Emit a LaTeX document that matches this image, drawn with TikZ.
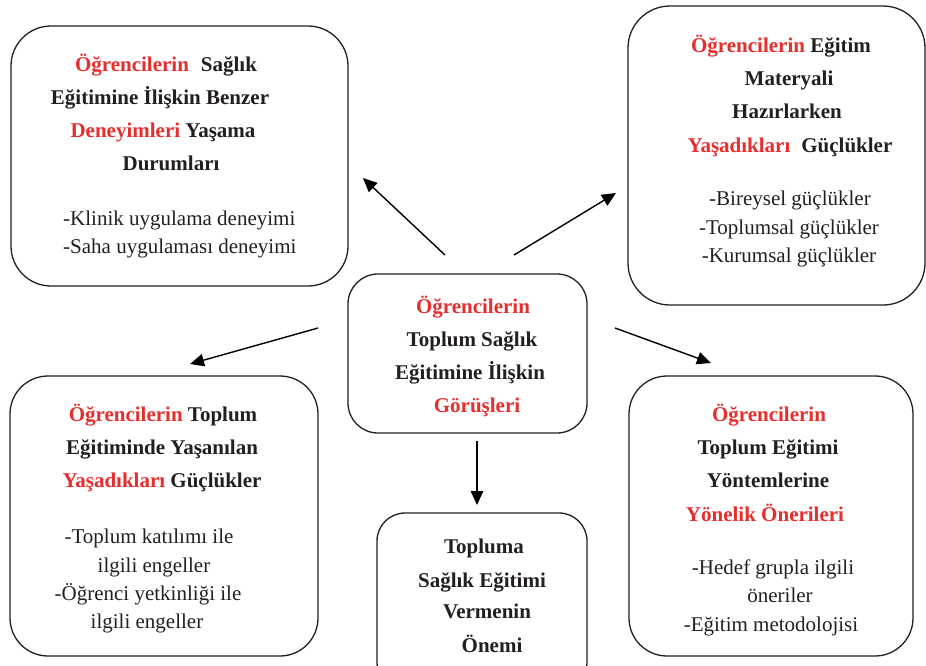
\documentclass[tikz,border=0pt]{standalone}
\usepackage{fontspec}
\setmainfont{Liberation Serif}
\usetikzlibrary{arrows.meta}
\definecolor{tred}{RGB}{232,45,45}
\definecolor{tblk}{RGB}{35,31,32}
\begin{document}
\begin{tikzpicture}[x=1pt,y=-1pt,
  box/.style={draw=tblk,line width=1.3pt,rounded corners=#1,inner sep=0},
  box/.default=40pt,
  ttl/.style={font=\bfseries\fontsize{21}{21}\selectfont,text=tblk,anchor=base,inner sep=0},
  itm/.style={font=\fontsize{21}{21}\selectfont,text=tblk,anchor=base,inner sep=0},
  arr/.style={draw=black,line width=1.4pt,-{Triangle[length=14pt,width=12.5pt]}}]
\useasboundingbox (0,0) rectangle (926,665);
% boxes
\draw[box] (11,26) rectangle (348,286);
\node[inner sep=0] (b1) at (179.5,156) {};
\draw[box=42pt] (628,6) rectangle (925,305);
\node[inner sep=0] (b2) at (776,155) {};
\draw[box=30pt] (348,274) rectangle (587,433);
\node[inner sep=0] (c) at (467,353) {};
\draw[box=38pt] (10,376) rectangle (318,656);
\node[inner sep=0] (b3) at (164,516) {};
\draw[box=38pt] (629,376) rectangle (913,656);
\node[inner sep=0] (b4) at (771,516) {};
\draw[box=28pt] (377,513) rectangle (587,690);
\node[inner sep=0] (b5) at (482,600) {};
% box 1 text
\node[ttl] (t11) at (166,71) {\textcolor{tred}{Öğrencilerin}\hspace{12pt}Sağlık};
\node[ttl] (t12) at (160,104) {Eğitimine İlişkin Benzer};
\node[ttl] (t13) at (163,137) {\textcolor{tred}{Deneyimleri} Yaşama};
\node[ttl] (t14) at (171,170) {Durumları};
\node[itm,anchor=base west] (i11) at (63,225) {-Klinik uygulama deneyimi};
\node[itm,anchor=base west] (i12) at (63,253) {-Saha uygulaması deneyimi};
% box 2 text
\node[ttl] (t21) at (781,52) {\textcolor{tred}{Öğrencilerin} Eğitim};
\node[ttl] (t22) at (789,85) {Materyali};
\node[ttl] (t23) at (787,118) {Hazırlarken};
\node[ttl] (t24) at (790,152) {\textcolor{tred}{Yaşadıkları}\hspace{11pt}Güçlükler};
\node[itm] (i21) at (790,205) {-Bireysel güçlükler};
\node[itm] (i22) at (789,234) {-Toplumsal güçlükler};
\node[itm] (i23) at (789,262) {-Kurumsal güçlükler};
% center text
\node[ttl] (tc1) at (473,313) {\textcolor{tred}{Öğrencilerin}};
\node[ttl] (tc2) at (472,346) {Toplum Sağlık};
\node[ttl] (tc3) at (470,379) {Eğitimine İlişkin};
\node[ttl] (tc4) at (477,412) {\textcolor{tred}{Görüşleri}};
% box 3 text
\node[ttl] (t31) at (163,421) {\textcolor{tred}{Öğrencilerin} Toplum};
\node[ttl] (t32) at (162,454) {Eğitiminde Yaşanılan};
\node[ttl] (t33) at (162,487) {\textcolor{tred}{Yaşadıkları} Güçlükler};
\node[itm] (i31) at (149,543) {-Toplum katılımı ile};
\node[itm] (i32) at (154,572) {ilgili engeller};
\node[itm] (i33) at (148,600) {-Öğrenci yetkinliği ile};
\node[itm] (i34) at (147,628) {ilgili engeller};
% box 4 text
\node[ttl] (t41) at (769,421) {\textcolor{tred}{Öğrencilerin}};
\node[ttl] (t42) at (768,454) {Toplum Eğitimi};
\node[ttl] (t43) at (768,487) {Yöntemlerine};
\node[ttl] (t44) at (765,521) {\textcolor{tred}{Yönelik Önerileri}};
\node[itm] (i41) at (773,574) {-Hedef grupla ilgili};
\node[itm] (i42) at (780,602) {öneriler};
\node[itm] (i43) at (771,631) {-Eğitim metodolojisi};
% box 5 text
\node[ttl] (t51) at (484,553) {Topluma};
\node[ttl] (t52) at (482,587) {Sağlık Eğitimi};
\node[ttl] (t53) at (487,618) {Vermenin};
\node[ttl] (t54) at (492,652) {Önemi};
% arrows
\coordinate (a1s) at (445,255); \coordinate (a1e) at (363,178);
\coordinate (a2s) at (514,255); \coordinate (a2e) at (616,193);
\coordinate (a3s) at (318,328); \coordinate (a3e) at (190,364);
\coordinate (a4s) at (615,328); \coordinate (a4e) at (711,363);
\coordinate (a5s) at (477,441); \coordinate (a5e) at (477,505);
\draw[arr] (a1s) -- (a1e);
\draw[arr] (a2s) -- (a2e);
\draw[arr] (a3s) -- (a3e);
\draw[arr] (a4s) -- (a4e);
\draw[arr] (a5s) -- (a5e);
\end{tikzpicture}
\end{document}
